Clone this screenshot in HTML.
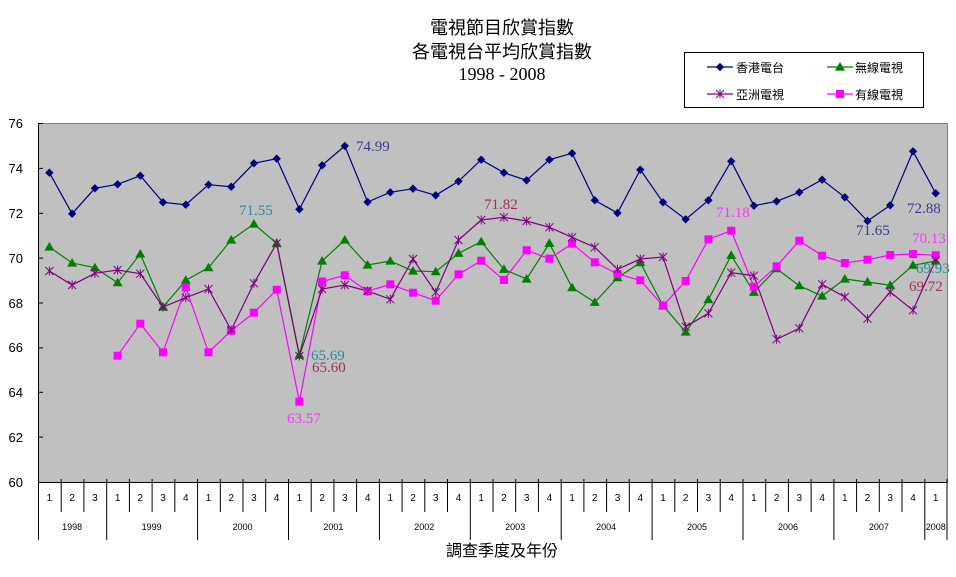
<!DOCTYPE html>
<html><head><meta charset="utf-8"><style>
html,body{margin:0;padding:0;background:#fff;}
svg{display:block;}
.s{font-family:"Liberation Sans","Noto Sans CJK TC",sans-serif;}
.r{font-family:"Liberation Serif","Noto Serif CJK SC",serif;}
</style></head><body>
<svg width="956" height="577" viewBox="0 0 956 577" xmlns="http://www.w3.org/2000/svg">
<defs>
<path id="dm" d="M0,-4.2 L4.2,0 L0,4.2 L-4.2,0Z" fill="#000080"/>
<path id="tr" d="M0,-5 L5,3.6 L-5,3.6Z" fill="#008000"/>
<rect id="sq" x="-4" y="-4" width="8" height="8" fill="#FF00FF"/>
<g id="st" stroke="#800080" stroke-width="1" fill="none"><path d="M0,-4.5V4.5M-4,-4L4,4M-4,4L4,-4"/></g>
</defs>
<!-- titles -->
<g class="s" font-size="18" fill="#000" text-anchor="middle">
<text x="502" y="34">電視節目欣賞指數</text>
<text x="502" y="58">各電視台平均欣賞指數</text>
</g>
<text class="r" x="502" y="80" font-size="18" text-anchor="middle">1998 - 2008</text>
<!-- legend -->
<rect x="684.5" y="52.5" width="239" height="55" fill="#fff" stroke="#000" stroke-width="1"/>
<line x1="707" y1="67" x2="733" y2="67" stroke="#000080" stroke-width="1.2"/><use href="#dm" x="720" y="67"/>
<line x1="827" y1="67" x2="853" y2="67" stroke="#008000" stroke-width="1.2"/><use href="#tr" x="840" y="67"/>
<line x1="707" y1="94" x2="733" y2="94" stroke="#800080" stroke-width="1.2"/><use href="#st" x="720" y="94"/>
<line x1="827" y1="94" x2="853" y2="94" stroke="#FF00FF" stroke-width="1.2"/><use href="#sq" x="840" y="94"/>
<g class="s" font-size="12" fill="#000">
<text x="736" y="72">香港電台</text>
<text x="855" y="72">無線電視</text>
<text x="736" y="99">亞洲電視</text>
<text x="855" y="99">有線電視</text>
</g>
<!-- plot area -->
<rect x="38" y="123" width="909" height="359" fill="#C0C0C0"/>
<path d="M38,123.5H947.5V482" fill="none" stroke="#808080" stroke-width="1"/>
<line x1="38.5" y1="123" x2="38.5" y2="482" stroke="#000" stroke-width="1"/>
<line x1="38" y1="482.5" x2="947.5" y2="482.5" stroke="#000" stroke-width="1"/>
<g stroke="#000" stroke-width="1">
<line x1="38" y1="123.5" x2="43" y2="123.5"/><line x1="38" y1="168.4" x2="43" y2="168.4"/>
<line x1="38" y1="213.3" x2="43" y2="213.3"/><line x1="38" y1="258.1" x2="43" y2="258.1"/>
<line x1="38" y1="303" x2="43" y2="303"/><line x1="38" y1="347.9" x2="43" y2="347.9"/>
<line x1="38" y1="392.3" x2="43" y2="392.3"/><line x1="38" y1="437.1" x2="43" y2="437.1"/>
</g>
<g class="s" font-size="13" fill="#000" text-anchor="end">
<text x="23" y="128">76</text><text x="23" y="173">74</text><text x="23" y="218">72</text>
<text x="23" y="263">70</text><text x="23" y="308">68</text><text x="23" y="352">66</text>
<text x="23" y="397">64</text><text x="23" y="442">62</text><text x="23" y="487">60</text>
</g>
<!-- x axis category ticks -->
<g stroke="#000" stroke-width="1">
<path d="M38.5,479V540M61.2,479V512M83.9,479V512M106.7,479V540M129.4,479V512M152.1,479V512M174.8,479V512M197.6,479V540M220.3,479V512M243,479V512M265.7,479V512M288.5,479V540M311.2,479V512M333.9,479V512M356.6,479V512M379.4,479V540M402.1,479V512M424.8,479V512M447.5,479V512M470.3,479V540M493,479V512M515.7,479V512M538.4,479V512M561.2,479V540M583.9,479V512M606.6,479V512M629.3,479V512M652.1,479V540M674.8,479V512M697.5,479V512M720.2,479V512M743,479V540M765.7,479V512M788.4,479V512M811.1,479V512M833.9,479V540M856.6,479V512M879.3,479V512M902,479V512M924.8,479V540M947,479V540"/>
</g>
<g class="s" font-size="10" fill="#000" text-anchor="middle">
<text x="49.4" y="501">1</text><text x="72.1" y="501">2</text><text x="94.9" y="501">3</text>
<text x="117.6" y="501">1</text><text x="140.3" y="501">2</text><text x="163" y="501">3</text><text x="185.8" y="501">4</text>
<text x="208.5" y="501">1</text><text x="231.2" y="501">2</text><text x="253.9" y="501">3</text><text x="276.7" y="501">4</text>
<text x="299.4" y="501">1</text><text x="322.1" y="501">2</text><text x="344.8" y="501">3</text><text x="367.6" y="501">4</text>
<text x="390.3" y="501">1</text><text x="413" y="501">2</text><text x="435.7" y="501">3</text><text x="458.5" y="501">4</text>
<text x="481.2" y="501">1</text><text x="503.9" y="501">2</text><text x="526.6" y="501">3</text><text x="549.4" y="501">4</text>
<text x="572.1" y="501">1</text><text x="594.8" y="501">2</text><text x="617.5" y="501">3</text><text x="640.3" y="501">4</text>
<text x="663" y="501">1</text><text x="685.7" y="501">2</text><text x="708.4" y="501">3</text><text x="731.2" y="501">4</text>
<text x="753.9" y="501">1</text><text x="776.6" y="501">2</text><text x="799.3" y="501">3</text><text x="822.1" y="501">4</text>
<text x="844.8" y="501">1</text><text x="867.5" y="501">2</text><text x="890.2" y="501">3</text><text x="913" y="501">4</text>
<text x="935.7" y="501">1</text>
</g>
<g class="s" font-size="9" fill="#000" text-anchor="middle">
<text x="72.1" y="530">1998</text><text x="151.6" y="530">1999</text><text x="242.5" y="530">2000</text>
<text x="333.4" y="530">2001</text><text x="424.3" y="530">2002</text><text x="515.2" y="530">2003</text>
<text x="606.1" y="530">2004</text><text x="697" y="530">2005</text><text x="788" y="530">2006</text>
<text x="878.9" y="530">2007</text><text x="935.8" y="530">2008</text>
</g>
<text class="s" x="502" y="556" font-size="16" text-anchor="middle">調查季度及年份</text>

<!-- series lines -->
<polyline fill="none" stroke="#000080" stroke-width="1.2" points="49.4,172.7 72.1,213.7 94.9,188.3 117.6,184.3 140.3,175.7 163,202.3 185.8,204.7 208.5,184.7 231.2,186.7 253.9,163.3 276.7,158.7 299.4,209.3 322.1,165.3 344.8,146 367.6,202 390.3,192.3 413,188.7 435.7,195.3 458.5,181.3 481.2,159.7 503.9,172.7 526.6,180.3 549.4,159.7 572.1,153.3 594.8,200.3 617.5,213 640.3,169.7 663,202.3 685.7,219.3 708.4,200.3 731.2,161.3 753.9,205.7 776.6,201.3 799.3,192.3 822.1,179.7 844.8,197.3 867.5,221 890.2,205.3 913,151.3 935.7,193.3"/>
<polyline fill="none" stroke="#008000" stroke-width="1.2" points="49.4,247 72.1,263 94.9,267.7 117.6,282.7 140.3,254 163,307 185.8,280.3 208.5,267.7 231.2,240 253.9,224 276.7,243.3 299.4,355 322.1,261 344.8,240 367.6,265 390.3,261 413,271 435.7,271.7 458.5,253.3 481.2,241.7 503.9,269.3 526.6,279 549.4,243.3 572.1,287.7 594.8,302.3 617.5,277.7 640.3,262.7 663,305.7 685.7,332 708.4,299.7 731.2,255.3 753.9,292.3 776.6,268.7 799.3,285.7 822.1,296 844.8,279 867.5,282 890.2,285.3 913,265.3 935.7,261"/>
<polyline fill="none" stroke="#FF00FF" stroke-width="1.2" points="117.6,355.7 140.3,323.7 163,352.3 185.8,287.3 208.5,352.3 231.2,330.7 253.9,312.7 276.7,289.7 299.4,401.7 322.1,281.5 344.8,275.3 367.6,291.3 390.3,284.3 413,292.7 435.7,300.7 458.5,274.3 481.2,260.7 503.9,280 526.6,250.3 549.4,258.7 572.1,243.7 594.8,262.3 617.5,274 640.3,280.3 663,305.7 685.7,281 708.4,239.3 731.2,230.7 753.9,286.7 776.6,266.3 799.3,240.7 822.1,255.7 844.8,263 867.5,259.7 890.2,255 913,254 935.7,255.3"/>
<polyline fill="none" stroke="#800080" stroke-width="1.2" points="49.4,271 72.1,285 94.9,273.3 117.6,270 140.3,273.7 163,307 185.8,297.7 208.5,289 231.2,330 253.9,283.3 276.7,243.3 299.4,356 322.1,289 344.8,285 367.6,291 390.3,299.3 413,259 435.7,292.3 458.5,240 481.2,220 503.9,217.3 526.6,221 549.4,227.3 572.1,237.3 594.8,247.3 617.5,269.3 640.3,259 663,257 685.7,326.7 708.4,313.3 731.2,272.7 753.9,275.7 776.6,339.3 799.3,328.3 822.1,284.3 844.8,297 867.5,318.7 890.2,292 913,310.3 935.7,260"/>

<!-- markers -->
<g>
<use href="#dm" x="49.4" y="172.7"/><use href="#dm" x="72.1" y="213.7"/><use href="#dm" x="94.9" y="188.3"/><use href="#dm" x="117.6" y="184.3"/><use href="#dm" x="140.3" y="175.7"/><use href="#dm" x="163" y="202.3"/><use href="#dm" x="185.8" y="204.7"/><use href="#dm" x="208.5" y="184.7"/><use href="#dm" x="231.2" y="186.7"/><use href="#dm" x="253.9" y="163.3"/><use href="#dm" x="276.7" y="158.7"/><use href="#dm" x="299.4" y="209.3"/><use href="#dm" x="322.1" y="165.3"/><use href="#dm" x="344.8" y="146"/><use href="#dm" x="367.6" y="202"/><use href="#dm" x="390.3" y="192.3"/><use href="#dm" x="413" y="188.7"/><use href="#dm" x="435.7" y="195.3"/><use href="#dm" x="458.5" y="181.3"/><use href="#dm" x="481.2" y="159.7"/><use href="#dm" x="503.9" y="172.7"/><use href="#dm" x="526.6" y="180.3"/><use href="#dm" x="549.4" y="159.7"/><use href="#dm" x="572.1" y="153.3"/><use href="#dm" x="594.8" y="200.3"/><use href="#dm" x="617.5" y="213"/><use href="#dm" x="640.3" y="169.7"/><use href="#dm" x="663" y="202.3"/><use href="#dm" x="685.7" y="219.3"/><use href="#dm" x="708.4" y="200.3"/><use href="#dm" x="731.2" y="161.3"/><use href="#dm" x="753.9" y="205.7"/><use href="#dm" x="776.6" y="201.3"/><use href="#dm" x="799.3" y="192.3"/><use href="#dm" x="822.1" y="179.7"/><use href="#dm" x="844.8" y="197.3"/><use href="#dm" x="867.5" y="221"/><use href="#dm" x="890.2" y="205.3"/><use href="#dm" x="913" y="151.3"/><use href="#dm" x="935.7" y="193.3"/>
</g>
<g>
<use href="#tr" x="49.4" y="247"/><use href="#tr" x="72.1" y="263"/><use href="#tr" x="94.9" y="267.7"/><use href="#tr" x="117.6" y="282.7"/><use href="#tr" x="140.3" y="254"/><use href="#tr" x="163" y="307"/><use href="#tr" x="185.8" y="280.3"/><use href="#tr" x="208.5" y="267.7"/><use href="#tr" x="231.2" y="240"/><use href="#tr" x="253.9" y="224"/><use href="#tr" x="276.7" y="243.3"/><use href="#tr" x="299.4" y="355"/><use href="#tr" x="322.1" y="261"/><use href="#tr" x="344.8" y="240"/><use href="#tr" x="367.6" y="265"/><use href="#tr" x="390.3" y="261"/><use href="#tr" x="413" y="271"/><use href="#tr" x="435.7" y="271.7"/><use href="#tr" x="458.5" y="253.3"/><use href="#tr" x="481.2" y="241.7"/><use href="#tr" x="503.9" y="269.3"/><use href="#tr" x="526.6" y="279"/><use href="#tr" x="549.4" y="243.3"/><use href="#tr" x="572.1" y="287.7"/><use href="#tr" x="594.8" y="302.3"/><use href="#tr" x="617.5" y="277.7"/><use href="#tr" x="640.3" y="262.7"/><use href="#tr" x="663" y="305.7"/><use href="#tr" x="685.7" y="332"/><use href="#tr" x="708.4" y="299.7"/><use href="#tr" x="731.2" y="255.3"/><use href="#tr" x="753.9" y="292.3"/><use href="#tr" x="776.6" y="268.7"/><use href="#tr" x="799.3" y="285.7"/><use href="#tr" x="822.1" y="296"/><use href="#tr" x="844.8" y="279"/><use href="#tr" x="867.5" y="282"/><use href="#tr" x="890.2" y="285.3"/><use href="#tr" x="913" y="265.3"/><use href="#tr" x="935.7" y="261"/>
</g>
<g>
<use href="#sq" x="117.6" y="355.7"/><use href="#sq" x="140.3" y="323.7"/><use href="#sq" x="163" y="352.3"/><use href="#sq" x="185.8" y="287.3"/><use href="#sq" x="208.5" y="352.3"/><use href="#sq" x="231.2" y="330.7"/><use href="#sq" x="253.9" y="312.7"/><use href="#sq" x="276.7" y="289.7"/><use href="#sq" x="299.4" y="401.7"/><use href="#sq" x="322.1" y="281.5"/><use href="#sq" x="344.8" y="275.3"/><use href="#sq" x="367.6" y="291.3"/><use href="#sq" x="390.3" y="284.3"/><use href="#sq" x="413" y="292.7"/><use href="#sq" x="435.7" y="300.7"/><use href="#sq" x="458.5" y="274.3"/><use href="#sq" x="481.2" y="260.7"/><use href="#sq" x="503.9" y="280"/><use href="#sq" x="526.6" y="250.3"/><use href="#sq" x="549.4" y="258.7"/><use href="#sq" x="572.1" y="243.7"/><use href="#sq" x="594.8" y="262.3"/><use href="#sq" x="617.5" y="274"/><use href="#sq" x="640.3" y="280.3"/><use href="#sq" x="663" y="305.7"/><use href="#sq" x="685.7" y="281"/><use href="#sq" x="708.4" y="239.3"/><use href="#sq" x="731.2" y="230.7"/><use href="#sq" x="753.9" y="286.7"/><use href="#sq" x="776.6" y="266.3"/><use href="#sq" x="799.3" y="240.7"/><use href="#sq" x="822.1" y="255.7"/><use href="#sq" x="844.8" y="263"/><use href="#sq" x="867.5" y="259.7"/><use href="#sq" x="890.2" y="255"/><use href="#sq" x="913" y="254"/><use href="#sq" x="935.7" y="255.3"/>
</g>
<g>
<use href="#st" x="49.4" y="271"/><use href="#st" x="72.1" y="285"/><use href="#st" x="94.9" y="273.3"/><use href="#st" x="117.6" y="270"/><use href="#st" x="140.3" y="273.7"/><use href="#st" x="163" y="307"/><use href="#st" x="185.8" y="297.7"/><use href="#st" x="208.5" y="289"/><use href="#st" x="231.2" y="330"/><use href="#st" x="253.9" y="283.3"/><use href="#st" x="276.7" y="243.3"/><use href="#st" x="299.4" y="356"/><use href="#st" x="322.1" y="289"/><use href="#st" x="344.8" y="285"/><use href="#st" x="367.6" y="291"/><use href="#st" x="390.3" y="299.3"/><use href="#st" x="413" y="259"/><use href="#st" x="435.7" y="292.3"/><use href="#st" x="458.5" y="240"/><use href="#st" x="481.2" y="220"/><use href="#st" x="503.9" y="217.3"/><use href="#st" x="526.6" y="221"/><use href="#st" x="549.4" y="227.3"/><use href="#st" x="572.1" y="237.3"/><use href="#st" x="594.8" y="247.3"/><use href="#st" x="617.5" y="269.3"/><use href="#st" x="640.3" y="259"/><use href="#st" x="663" y="257"/><use href="#st" x="685.7" y="326.7"/><use href="#st" x="708.4" y="313.3"/><use href="#st" x="731.2" y="272.7"/><use href="#st" x="753.9" y="275.7"/><use href="#st" x="776.6" y="339.3"/><use href="#st" x="799.3" y="328.3"/><use href="#st" x="822.1" y="284.3"/><use href="#st" x="844.8" y="297"/><use href="#st" x="867.5" y="318.7"/><use href="#st" x="890.2" y="292"/><use href="#st" x="913" y="310.3"/><use href="#st" x="935.7" y="260"/>
</g>

<!-- data labels -->
<g class="r" font-size="15">
<text x="239" y="215" fill="#2A8C9C">71.55</text>
<text x="356" y="151" fill="#3A3A96">74.99</text>
<text x="311" y="360" fill="#2A8C9C">65.69</text>
<text x="312" y="372" fill="#993355">65.60</text>
<text x="287" y="423" fill="#FF33FF">63.57</text>
<text x="484" y="209" fill="#993355">71.82</text>
<text x="716" y="217" fill="#FF33FF">71.18</text>
<text x="856" y="235" fill="#3A3A96">71.65</text>
<text x="907" y="213" fill="#3A3A96">72.88</text>
<text x="912" y="243" fill="#FF33FF">70.13</text>
<text x="916" y="273" fill="#2A8C9C">69.93</text>
<text x="909" y="291" fill="#993355">69.72</text>
</g>
</svg>
</body></html>
